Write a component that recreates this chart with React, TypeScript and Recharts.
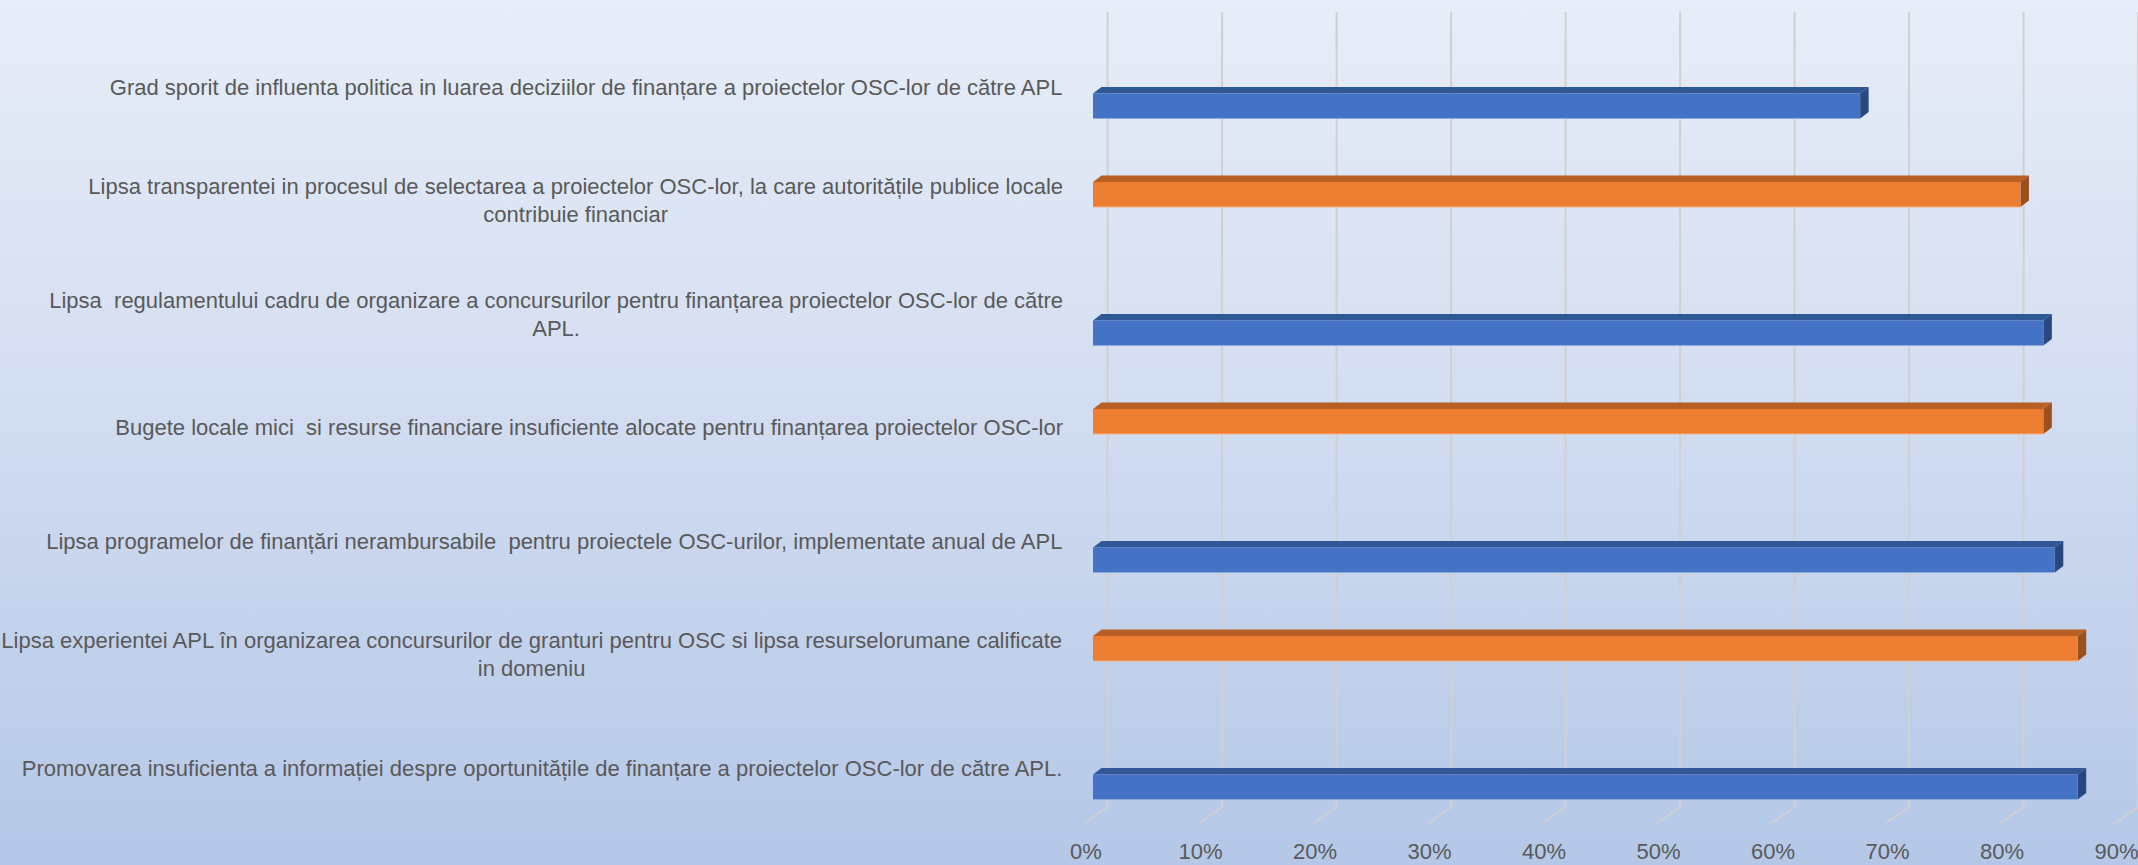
import React from "react";
import { Bar, BarChart, CartesianGrid, XAxis, YAxis } from "recharts";

const categories = [
  "Grad sporit de influenta politica in luarea deciziilor de finanțare a proiectelor OSC-lor de către APL",
  "Lipsa transparentei in procesul de selectarea a proiectelor OSC-lor, la care autoritățile publice locale\ncontribuie financiar",
  "Lipsa  regulamentului cadru de organizare a concursurilor pentru finanțarea proiectelor OSC-lor de către\nAPL.",
  "Bugete locale mici  si resurse financiare insuficiente alocate pentru finanțarea proiectelor OSC-lor",
  "Lipsa programelor de finanțări nerambursabile  pentru proiectele OSC-urilor, implementate anual de APL",
  "Lipsa experientei APL în organizarea concursurilor de granturi pentru OSC si lipsa resurselorumane calificate\nin domeniu",
  "Promovarea insuficienta a informației despre oportunitățile de finanțare a proiectelor OSC-lor de către APL.",
];

const blueValues = [67, null, 83, null, 84, null, 86];
const orangeValues = [null, 81, null, 83, null, 86, null];

const xTicks = [0, 10, 20, 30, 40, 50, 60, 70, 80, 90];

const data = categories.map((name, i) => ({
  name,
  blue: blueValues[i],
  orange: orangeValues[i],
}));

const W = 2138;
const H = 865;
const FONT = "'Liberation Sans', Arial, sans-serif";
const FONT_SIZE = 22;
const TEXT = "#595959";
const GRID = "#D0D0D0";
const LABEL_RIGHT = 1063;
const DX = 8.5;
const DY = 6.5;

let ctx: CanvasRenderingContext2D | null = null;
function textWidth(s: string) {
  if (!ctx) ctx = document.createElement("canvas").getContext("2d");
  if (!ctx) return s.length * 10;
  ctx.font = `${FONT_SIZE}px ${FONT}`;
  return ctx.measureText(s).width;
}

function make3dBar(front: string, top: string, side: string, edge: string) {
  return (props: any) => {
    const { x, y, width, height } = props;
    if (!width || width <= 0) return <g />;
    const r = x + width;
    return (
      <g>
        <polygon
          points={`${x},${y} ${x + DX},${y - DY} ${r + DX},${y - DY} ${r},${y}`}
          fill={top}
        />
        <polygon
          points={`${r},${y} ${r + DX},${y - DY} ${r + DX},${y + height - DY} ${r},${y + height}`}
          fill={side}
        />
        <rect x={x} y={y} width={width} height={height} fill={front} />
        <line x1={x} y1={y + height} x2={r} y2={y + height} stroke={edge} strokeWidth={1.2} />
      </g>
    );
  };
}

const BlueBar = make3dBar("#4472C4", "#325797", "#2A4880", "#8EA9DB");
const OrangeBar = make3dBar("#ED7D31", "#B75F24", "#9C501E", "#F4B183");

function CategoryTick(props: any) {
  const { y, payload } = props;
  const lines: string[] = String(payload.value).split("\n");
  const widest = Math.max(...lines.map(textWidth));
  const cx = LABEL_RIGHT - widest / 2;
  const lh = 28;
  const top = y - 6 - ((lines.length - 1) * lh) / 2;
  return (
    <g>
      {lines.map((ln, i) => (
        <text
          key={i}
          x={cx}
          y={top + i * lh}
          textAnchor="middle"
          dominantBaseline="central"
          fontFamily={FONT}
          fontSize={FONT_SIZE}
          fill={TEXT}
          style={{ whiteSpace: "pre" }}
        >
          {ln}
        </text>
      ))}
    </g>
  );
}

function PercentTick(props: any) {
  const { x, payload } = props;
  return (
    <text
      x={x - 7}
      y={851}
      textAnchor="middle"
      dominantBaseline="central"
      fontFamily={FONT}
      fontSize={FONT_SIZE}
      fill={TEXT}
    >
      {`${payload.value}%`}
    </text>
  );
}

function GridLine(props: any) {
  const { x1, y1, y2 } = props;
  const bx = x1 + 14.6;
  const top = y1 - 24.5;
  const floor = y2 - 24;
  return (
    <g key={props.key}>
      <line x1={bx} y1={top} x2={bx} y2={floor} stroke={GRID} strokeWidth={2} />
      <line x1={bx} y1={floor} x2={x1 - 8.3} y2={floor + 16} stroke={GRID} strokeWidth={2} />
    </g>
  );
}

export default function App() {
  return (
    <div
      style={{
        width: W,
        height: H,
        background: "linear-gradient(180deg, #E7EDF8 0%, #D6E0F2 40%, #B4C7E7 100%)",
      }}
    >
      <style>{"body{margin:0}"}</style>
      <BarChart
        width={W}
        height={H}
        data={data}
        layout="vertical"
        barSize={25}
        barGap={0}
        barCategoryGap={0}
        margin={{ top: 36.5, right: 14.5, bottom: 0, left: 0 }}
      >
        <CartesianGrid horizontal={false} vertical={GridLine} />
        <XAxis
          type="number"
          domain={[0, 90]}
          ticks={xTicks}
          height={34}
          axisLine={false}
          tickLine={false}
          tick={PercentTick}
          interval={0}
        />
        <YAxis
          type="category"
          dataKey="name"
          width={1093}
          axisLine={false}
          tickLine={false}
          tick={CategoryTick}
          interval={0}
        />
        <Bar dataKey="orange" shape={OrangeBar} isAnimationActive={false} />
        <Bar dataKey="blue" shape={BlueBar} isAnimationActive={false} />
      </BarChart>
    </div>
  );
}
